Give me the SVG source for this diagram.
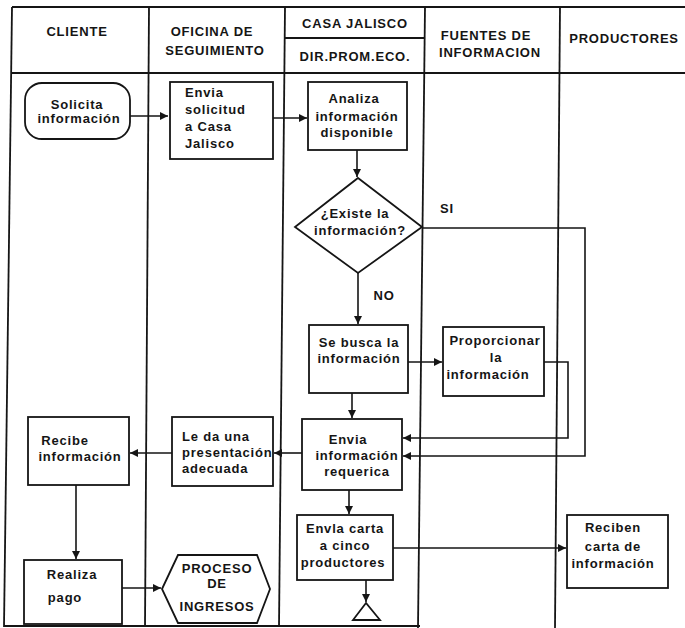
<svg xmlns="http://www.w3.org/2000/svg" width="685" height="628" viewBox="0 0 685 628">
<style>
.t{font-family:"Liberation Sans",Arial,sans-serif;font-size:13px;font-weight:bold;letter-spacing:0.8px;fill:#151515;text-anchor:middle}
.s{text-anchor:start}
.b{fill:#fff;stroke:#151515;stroke-width:1.8}
.g{fill:none;stroke:#151515;stroke-width:1.8}
.c{fill:none;stroke:#151515;stroke-width:1.6;marker-end:url(#ah)}
</style>
<defs>
<marker id="ah" viewBox="0 0 10 10" refX="10" refY="5" markerWidth="9" markerHeight="8" markerUnits="userSpaceOnUse" orient="auto">
<path d="M0,0 L10,5 L0,10 z" fill="#151515"/>
</marker>
</defs>
<rect width="685" height="628" fill="#fff"/>
<g id="lanes">
<line class="g" x1="12" y1="7" x2="685" y2="7"/>
<line class="g" x1="11" y1="73" x2="685" y2="73"/>
<line class="g" x1="12" y1="7" x2="4" y2="627"/>
<line class="g" x1="149" y1="7" x2="145" y2="627"/>
<line class="g" x1="285" y1="7" x2="279" y2="627"/>
<line class="g" x1="425" y1="7" x2="418" y2="628"/>
<line class="g" x1="560" y1="7" x2="555" y2="628"/>
<line class="g" x1="4" y1="626" x2="420" y2="626"/>
<line class="g" x1="285" y1="38" x2="424" y2="38"/>
<text class="t" x="77" y="36">CLIENTE</text>
<text class="t" x="212" y="36">OFICINA DE</text>
<text class="t" x="215" y="55">SEGUIMIENTO</text>
<text class="t" x="355" y="28">CASA JALISCO</text>
<text class="t" x="355" y="61">DIR.PROM.ECO.</text>
<text class="t" x="486" y="40">FUENTES DE</text>
<text class="t" x="490" y="57">INFORMACION</text>
<text class="t" x="624" y="43">PRODUCTORES</text>
</g>
<g id="connectors">
<line class="c" x1="130" y1="116" x2="168" y2="116"/>
<line class="c" x1="273" y1="118" x2="307" y2="118"/>
<line class="c" x1="357" y1="150" x2="357" y2="177"/>
<line class="c" x1="358" y1="273" x2="358" y2="324"/>
<path class="c" d="M422,228 H585 V456 H403"/>
<line class="c" x1="408" y1="362" x2="442" y2="362"/>
<path class="c" d="M544,362 H568 V438 H403"/>
<line class="c" x1="352" y1="393" x2="352" y2="418"/>
<line class="c" x1="302" y1="453" x2="274" y2="453"/>
<line class="c" x1="172" y1="453" x2="130" y2="453"/>
<line class="c" x1="76" y1="485" x2="76" y2="559"/>
<line class="c" x1="122" y1="588" x2="161" y2="588"/>
<line class="c" x1="349" y1="490" x2="349" y2="514"/>
<line class="c" x1="393" y1="548" x2="566" y2="548"/>
<line class="c" x1="366" y1="580" x2="366" y2="602"/>
<text class="t" x="447" y="213">SI</text>
<text class="t" x="384" y="300">NO</text>
</g>
<g id="n_solicita">
<rect class="b" x="25" y="83" width="105" height="56" rx="17"/>
<text class="t" x="77" y="109">Solicita</text>
<text class="t" x="79" y="123">información</text>
</g>
<g id="n_envia_solicitud">
<rect class="b" x="170" y="82" width="103" height="77"/>
<text class="t s" x="185" y="97">Envia</text>
<text class="t s" x="185" y="114">solicitud</text>
<text class="t s" x="185" y="131">a Casa</text>
<text class="t s" x="185" y="148">Jalisco</text>
</g>
<g id="n_analiza">
<rect class="b" x="308" y="82" width="99" height="68"/>
<text class="t" x="354" y="103">Analiza</text>
<text class="t" x="357" y="121">información</text>
<text class="t" x="357" y="137">disponible</text>
</g>
<g id="n_existe">
<polygon class="b" points="358,178 422,227 358,273 295,227"/>
<text class="t" x="355" y="218">¿Existe la</text>
<text class="t" x="360" y="235">información?</text>
</g>
<g id="n_sebusca">
<rect class="b" x="309" y="325" width="99" height="68"/>
<text class="t" x="359" y="347">Se busca la</text>
<text class="t" x="359" y="363">información</text>
</g>
<g id="n_proporcionar">
<rect class="b" x="443" y="327" width="101" height="69"/>
<text class="t" x="495" y="345">Proporcionar</text>
<text class="t" x="496" y="362">la</text>
<text class="t" x="488" y="379">información</text>
</g>
<g id="n_envia_info">
<rect class="b" x="302" y="419" width="100" height="71"/>
<text class="t" x="348" y="444">Envia</text>
<text class="t" x="357" y="460">información</text>
<text class="t" x="357" y="476">requerica</text>
</g>
<g id="n_leda">
<rect class="b" x="172" y="417" width="101" height="69"/>
<text class="t s" x="182" y="441">Le da una</text>
<text class="t s" x="182" y="457">presentación</text>
<text class="t s" x="182" y="473">adecuada</text>
</g>
<g id="n_recibe">
<rect class="b" x="28" y="417" width="101" height="68"/>
<text class="t" x="65" y="445">Recibe</text>
<text class="t" x="80" y="461">información</text>
</g>
<g id="n_realiza">
<rect class="b" x="24" y="560" width="98" height="64"/>
<text class="t" x="72" y="579">Realiza</text>
<text class="t" x="65" y="602">pago</text>
</g>
<g id="n_proceso">
<polygon class="b" points="162,589 178,555 257,555 270,589 257,623 178,623"/>
<text class="t" x="217" y="573">PROCESO</text>
<text class="t" x="217" y="588">DE</text>
<text class="t" x="217" y="611">INGRESOS</text>
</g>
<g id="n_envla_carta">
<rect class="b" x="297" y="515" width="96" height="65"/>
<text class="t" x="345" y="533">Envla carta</text>
<text class="t" x="345" y="550">a cinco</text>
<text class="t" x="343" y="567">productores</text>
</g>
<g id="n_reciben">
<rect class="b" x="567" y="515" width="101" height="73"/>
<text class="t" x="613" y="532">Reciben</text>
<text class="t" x="613" y="551">carta de</text>
<text class="t" x="613" y="568">información</text>
</g>
<g id="n_fin">
<polygon class="b" points="366,603 353,620 380,620"/>
</g>
</svg>
